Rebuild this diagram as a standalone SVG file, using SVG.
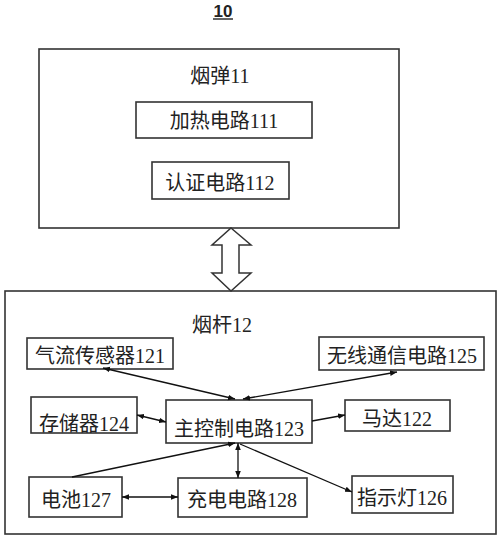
<svg xmlns="http://www.w3.org/2000/svg" width="500" height="540" viewBox="0 0 500 540">
<defs>
<marker id="ah" viewBox="0 0 10 10" refX="10" refY="5" markerWidth="7" markerHeight="7" orient="auto-start-reverse" markerUnits="userSpaceOnUse">
<path d="M0,1 L10,5 L0,9 Z" fill="#111"/>
</marker>
</defs>
<style>
.box{fill:#fff;stroke:#333;stroke-width:1.6}
.t{font-family:"Liberation Serif","Noto Sans CJK SC",serif;font-size:20px;fill:#222;text-anchor:middle}
.c{stroke:#111;stroke-width:1.3;fill:none}
</style>
<rect width="500" height="540" fill="#fff"/>
<g id="title">
<text x="223" y="17" font-family="Liberation Sans, sans-serif" font-size="17" font-weight="bold" fill="#222" text-anchor="middle">10</text>
<line x1="213" y1="19" x2="233" y2="19" stroke="#222" stroke-width="1.4"/>
</g>
<g id="n11">
<rect class="box" x="39" y="49" width="360" height="179"/>
<text class="t" x="220" y="83">烟弹11</text>
</g>
<g id="n111">
<rect class="box" x="136" y="102" width="176" height="36"/>
<text class="t" x="224" y="128">加热电路111</text>
</g>
<g id="n112">
<rect class="box" x="152" y="162" width="137" height="37"/>
<text class="t" x="220" y="190">认证电路112</text>
</g>
<g id="n12">
<rect class="box" x="5" y="291" width="491" height="243"/>
<text class="t" x="222" y="332">烟杆12</text>
</g>
<g id="n121">
<rect class="box" x="27" y="338" width="146" height="31"/>
<text class="t" x="100" y="363">气流传感器121</text>
</g>
<g id="n125">
<rect class="box" x="319" y="337" width="165" height="33"/>
<text class="t" x="402" y="363">无线通信电路125</text>
</g>
<g id="n124">
<rect class="box" x="31" y="397" width="106" height="36"/>
<text class="t" x="84" y="431">存储器124</text>
</g>
<g id="n123">
<rect class="box" x="166" y="400" width="146" height="43"/>
<text class="t" x="239" y="436">主控制电路123</text>
</g>
<g id="n122">
<rect class="box" x="345" y="400" width="105" height="31"/>
<text class="t" x="397" y="426">马达122</text>
</g>
<g id="n127">
<rect class="box" x="29" y="477" width="93" height="40"/>
<text class="t" x="76" y="507">电池127</text>
</g>
<g id="n128">
<rect class="box" x="178" y="478" width="129" height="39"/>
<text class="t" x="242" y="507">充电电路128</text>
</g>
<g id="n126">
<rect class="box" x="352" y="476" width="101" height="37"/>
<text class="t" x="402" y="505">指示灯126</text>
</g>
<g id="connectors">
<path d="M231,228 L251,245 L239,245 L239,273 L251,273 L231,291 L212,273 L222,273 L222,245 L212,245 Z" fill="#fff" stroke="#333" stroke-width="1.5" stroke-linejoin="miter"/>
<line class="c" x1="103" y1="368" x2="235" y2="399" marker-start="url(#ah)" marker-end="url(#ah)"/>
<line class="c" x1="397" y1="372" x2="243" y2="399" marker-start="url(#ah)" marker-end="url(#ah)"/>
<line class="c" x1="137" y1="415" x2="166" y2="422" marker-start="url(#ah)" marker-end="url(#ah)"/>
<line class="c" x1="312" y1="421" x2="345" y2="415" marker-end="url(#ah)"/>
<line class="c" x1="72" y1="477" x2="235" y2="443" marker-end="url(#ah)"/>
<line class="c" x1="238" y1="443" x2="238" y2="478" marker-start="url(#ah)" marker-end="url(#ah)"/>
<line class="c" x1="122" y1="497" x2="178" y2="497" marker-start="url(#ah)" marker-end="url(#ah)"/>
<line class="c" x1="240" y1="444" x2="352" y2="492" marker-end="url(#ah)"/>
</g>
</svg>
